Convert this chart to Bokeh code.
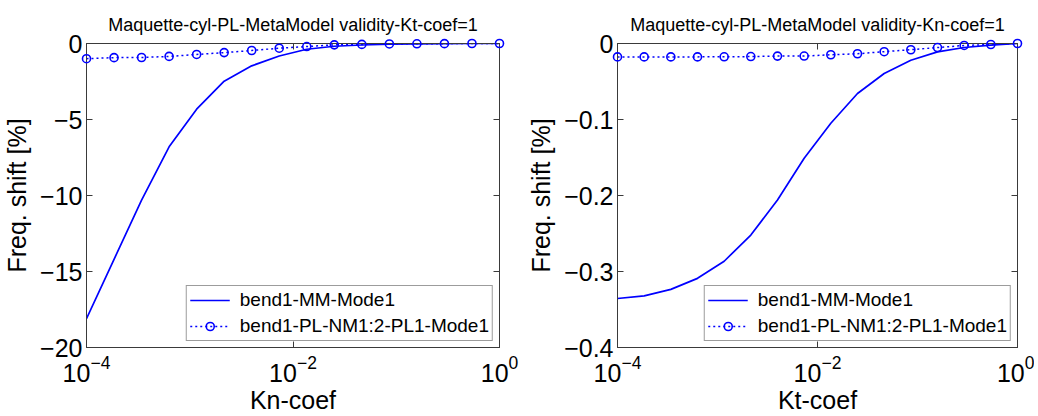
from bokeh.plotting import figure
from bokeh.layouts import row
from bokeh.models import (Range1d, FixedTicker, LogAxis, LinearAxis, Legend, LegendItem)
from bokeh.embed import file_html
from bokeh.resources import INLINE

# x grid (coef values)
coef = [1.0e-4, 1.848e-4, 3.415e-4, 6.310e-4, 1.166e-3, 2.154e-3, 3.981e-3, 7.356e-3,
        1.359e-2, 2.512e-2, 4.642e-2, 8.577e-2, 0.1585, 0.2929, 0.5412, 1.0]

# Left panel: Kn-coef sweep (Kt-coef = 1)
kn_mm = [-18.1, -14.2, -10.3, -6.8, -4.32, -2.48, -1.47, -0.82, -0.38, -0.18,
         -0.10, -0.05, -0.02, -0.01, 0.0, 0.0]
kn_pl = [-1.0, -0.93, -0.92, -0.85, -0.72, -0.60, -0.46, -0.31, -0.20, -0.09,
         -0.06, -0.03, -0.02, -0.01, 0.0, 0.0]

# Right panel: Kt-coef sweep (Kn-coef = 1)
kt_mm = [-0.3355, -0.332, -0.3235, -0.309, -0.2865, -0.252, -0.206, -0.151, -0.105,
         -0.0658, -0.0395, -0.022, -0.011, -0.0053, -0.0022, 0.0]
kt_pl = [-0.0176, -0.0176, -0.0176, -0.0176, -0.0175, -0.0172, -0.0166, -0.0165, -0.0148,
         -0.0135, -0.0108, -0.0082, -0.0053, -0.0026, -0.0013, 0.0]

x_ticks = [1e-4, 1e-2, 1.0]
left_yticks = [-20, -15, -10, -5, 0]
right_yticks = [-0.4, -0.3, -0.2, -0.1, 0]

titles = ["Maquette-cyl-PL-MetaModel validity-Kt-coef=1",
          "Maquette-cyl-PL-MetaModel validity-Kn-coef=1"]
xlabels = ["Kn-coef", "Kt-coef"]
ylabel = "Freq. shift [%]"
labels = ["bend1-MM-Mode1", "bend1-PL-NM1:2-PL1-Mode1"]

FONT = "Liberation Sans"
AX = "#3a3a3a"
BLUE = "#0000ff"


def make_panel(title, xlabel, mm, pl, yr, yticks, width, bl, br):
    p = figure(width=width, height=416, x_axis_type="log",
               x_range=Range1d(1e-4, 1.0), y_range=Range1d(*yr),
               output_backend="svg", toolbar_location=None,
               min_border_left=bl, min_border_right=br,
               min_border_top=43, min_border_bottom=69)
    p.grid.visible = False
    p.outline_line_color = AX
    p.outline_line_width = 1
    p.background_fill_color = "white"
    p.border_fill_color = "white"

    p.title.text = title
    p.title.align = "center"
    p.title.text_font = FONT
    p.title.text_font_size = "18px"
    p.title.text_font_style = "normal"
    p.title.text_color = "black"
    p.title.standoff = 17

    xa = p.xaxis[0]
    xa.ticker = FixedTicker(ticks=x_ticks, minor_ticks=[])
    xa.axis_label = xlabel
    ya = p.yaxis[0]
    ya.ticker = FixedTicker(ticks=yticks, minor_ticks=[])
    ya.axis_label = ylabel
    for a in (xa, ya):
        a.axis_line_color = AX
        a.major_tick_line_color = AX
        a.major_tick_in = 6
        a.major_tick_out = 0
        a.minor_tick_in = 0
        a.minor_tick_out = 0
        a.major_label_text_font = FONT
        a.major_label_text_font_size = "25px"
        a.major_label_text_color = "black"
        a.axis_label_text_font = FONT
        a.axis_label_text_font_size = "25px"
        a.axis_label_text_font_style = "normal"
        a.axis_label_text_color = "black"
    xa.major_label_standoff = 7
    xa.axis_label_standoff = 1
    ya.major_label_standoff = 4
    ya.axis_label_standoff = 6

    top = LogAxis(ticker=FixedTicker(ticks=x_ticks, minor_ticks=[]),
                  major_label_text_font_size="2px", major_label_text_color=None,
                  major_label_standoff=0,
                  major_tick_in=6, major_tick_out=0, minor_tick_in=0, minor_tick_out=0,
                  axis_line_color=AX, major_tick_line_color=AX)
    right = LinearAxis(ticker=FixedTicker(ticks=yticks, minor_ticks=[]),
                       major_label_text_font_size="2px", major_label_text_color=None,
                       major_label_standoff=0,
                       major_tick_in=6, major_tick_out=0, minor_tick_in=0, minor_tick_out=0,
                       axis_line_color=AX, major_tick_line_color=AX)
    p.add_layout(top, "above")
    p.add_layout(right, "right")

    l1 = p.line(coef, mm, line_color=BLUE, line_width=1.7)
    l2 = p.line(coef, pl, line_color=BLUE, line_width=1.5, line_dash="2 3")
    s2 = p.scatter(coef, pl, marker="circle", size=8, line_color=BLUE, line_width=1.6,
                   fill_color=None, level="overlay")

    leg = Legend(items=[LegendItem(label=labels[0], renderers=[l1]),
                        LegendItem(label=labels[1], renderers=[l2, s2])],
                 location="bottom_right")
    leg.label_text_font = FONT
    leg.label_text_font_size = "19px"
    leg.label_text_color = "black"
    leg.border_line_color = AX
    leg.border_line_width = 1
    leg.background_fill_color = "white"
    leg.background_fill_alpha = 1.0
    leg.glyph_width = 40
    leg.glyph_height = 20
    leg.label_height = 20
    leg.label_standoff = 10
    leg.spacing = 4
    leg.padding = 3
    leg.margin = 6
    p.add_layout(leg)
    return p


p1 = make_panel(titles[0], xlabels[0], kn_mm, kn_pl, (-20, 0), left_yticks, 524, 85, 25)
p2 = make_panel(titles[1], xlabels[1], kt_mm, kt_pl, (-0.4, 0), right_yticks, 510, 85, 17)

layout = row(p1, p2)
open("out.html", "w").write(file_html(layout, INLINE))
